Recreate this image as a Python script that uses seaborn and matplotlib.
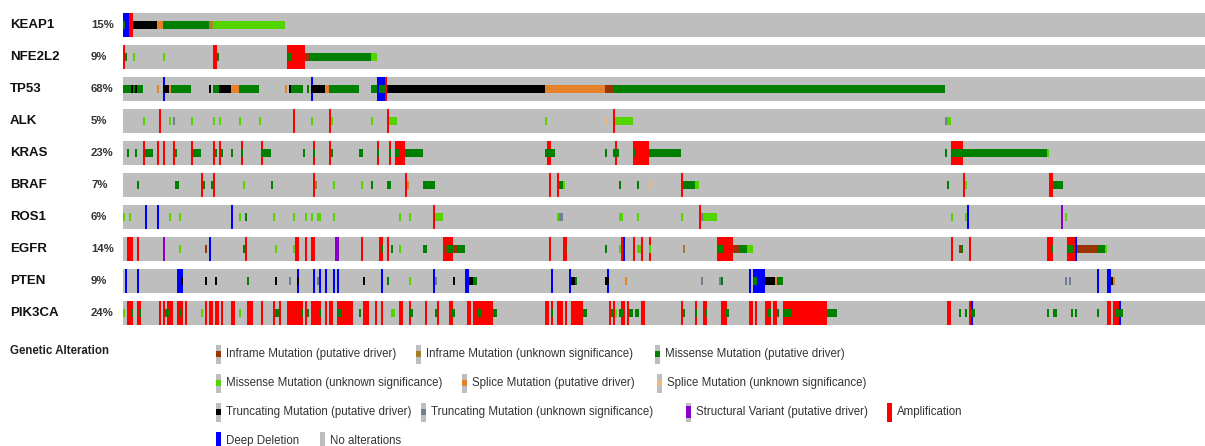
import numpy as np
import pandas as pd
import matplotlib
matplotlib.use("Agg")
import matplotlib.pyplot as plt
import matplotlib.transforms as mtrans
from matplotlib.colors import ListedColormap
from matplotlib.patches import Rectangle
import seaborn as sns

# ---------------------------------------------------------------
# Data: one column per sample, alterations as (type, first, stop)
# ---------------------------------------------------------------
n_samples = 541

genes = ["KEAP1", "NFE2L2", "TP53", "ALK", "KRAS", "BRAF", "ROS1", "EGFR", "PTEN", "PIK3CA"]
freq = ["15%", "9%", "68%", "5%", "23%", "7%", "6%", "14%", "9%", "24%"]

# copy number / structural (full height)
keap1_cna = [("HOMDEL", 0, 3), ("AMP", 3, 5)]
nfe2l2_cna = [("AMP", 0, 1), ("AMP", 45, 47), ("AMP", 82, 91)]
tp53_cna = [("HOMDEL", 20, 21), ("HOMDEL", 94, 95), ("HOMDEL", 127, 131), ("AMP", 131, 132)]
alk_cna = [("AMP", 18, 19), ("AMP", 85, 86), ("AMP", 103, 104), ("AMP", 132, 133), ("AMP", 245, 246)]
kras_cna = [("AMP", 10, 11), ("AMP", 17, 18), ("AMP", 20, 21), ("AMP", 25, 26), ("AMP", 34, 35),
            ("AMP", 45, 46), ("AMP", 48, 49), ("AMP", 59, 60), ("AMP", 69, 70), ("AMP", 95, 96),
            ("AMP", 103, 104), ("AMP", 127, 128), ("AMP", 133, 134), ("AMP", 136, 141),
            ("AMP", 212, 214), ("AMP", 246, 247), ("AMP", 255, 263), ("AMP", 414, 420)]
braf_cna = [("AMP", 39, 40), ("AMP", 45, 46), ("AMP", 95, 96), ("AMP", 141, 142), ("AMP", 213, 214),
            ("AMP", 217, 218), ("AMP", 279, 280), ("AMP", 420, 421), ("AMP", 463, 465)]
ros1_cna = [("HOMDEL", 11, 12), ("HOMDEL", 17, 18), ("HOMDEL", 54, 55), ("AMP", 155, 156),
            ("AMP", 288, 289), ("HOMDEL", 422, 423), ("SV", 469, 470)]
egfr_cna = [("AMP", 2, 3), ("AMP", 3, 5), ("AMP", 7, 8), ("SV", 20, 21), ("HOMDEL", 43, 44),
            ("AMP", 61, 62), ("AMP", 86, 88), ("AMP", 91, 92), ("AMP", 94, 96), ("SV", 106, 108),
            ("AMP", 119, 120), ("AMP", 128, 130), ("AMP", 132, 133), ("AMP", 160, 165),
            ("AMP", 213, 214), ("AMP", 220, 222), ("AMP", 249, 250), ("HOMDEL", 250, 251),
            ("AMP", 255, 256), ("AMP", 259, 260), ("AMP", 263, 264), ("AMP", 297, 305),
            ("AMP", 414, 415), ("AMP", 423, 424), ("AMP", 462, 465), ("AMP", 472, 476),
            ("HOMDEL", 476, 477)]
pten_cna = [("HOMDEL", 1, 2), ("HOMDEL", 7, 8), ("HOMDEL", 27, 29), ("HOMDEL", 29, 30),
            ("HOMDEL", 87, 88), ("HOMDEL", 95, 96), ("HOMDEL", 98, 99), ("HOMDEL", 101, 102),
            ("HOMDEL", 105, 106), ("HOMDEL", 107, 108), ("HOMDEL", 129, 130), ("HOMDEL", 155, 156),
            ("HOMDEL", 171, 173), ("HOMDEL", 214, 215), ("HOMDEL", 223, 224), ("HOMDEL", 242, 243),
            ("HOMDEL", 313, 314), ("HOMDEL", 315, 321), ("HOMDEL", 487, 488), ("HOMDEL", 492, 494)]
pik3ca_cna = [("AMP", 2, 3), ("AMP", 3, 5), ("AMP", 7, 9), ("AMP", 18, 19), ("AMP", 20, 21),
              ("AMP", 22, 25), ("AMP", 27, 30), ("AMP", 31, 32), ("AMP", 41, 42), ("AMP", 43, 45),
              ("AMP", 46, 48), ("AMP", 49, 50), ("AMP", 54, 56), ("AMP", 62, 65), ("AMP", 69, 70),
              ("AMP", 75, 76), ("AMP", 78, 79), ("AMP", 82, 90), ("AMP", 91, 92), ("AMP", 94, 99),
              ("AMP", 101, 102), ("AMP", 103, 105), ("AMP", 107, 115), ("AMP", 120, 123),
              ("AMP", 126, 127), ("AMP", 129, 130), ("AMP", 138, 140), ("AMP", 143, 144),
              ("AMP", 151, 152), ("AMP", 157, 158), ("AMP", 163, 165), ("AMP", 172, 174),
              ("AMP", 175, 185), ("AMP", 211, 213), ("AMP", 214, 215), ("AMP", 217, 218),
              ("AMP", 218, 220), ("AMP", 221, 222), ("AMP", 224, 226), ("AMP", 226, 227),
              ("AMP", 227, 230), ("AMP", 243, 244), ("AMP", 245, 246), ("AMP", 249, 251),
              ("AMP", 252, 253), ("AMP", 259, 261), ("AMP", 279, 280), ("AMP", 286, 287),
              ("AMP", 290, 292), ("AMP", 299, 302), ("AMP", 313, 315), ("AMP", 316, 317),
              ("AMP", 321, 324), ("AMP", 325, 327), ("AMP", 330, 352), ("AMP", 412, 414),
              ("AMP", 423, 424), ("HOMDEL", 424, 425), ("AMP", 492, 494), ("AMP", 495, 498),
              ("HOMDEL", 498, 499)]

# mutations (middle bar)
keap1_mut = [("MIS_D", 0, 1), ("TRU_D", 5, 17), ("SPL_D", 17, 20), ("MIS_D", 20, 43),
             ("INF_U", 43, 45), ("MIS_U", 45, 81)]
nfe2l2_mut = [("MIS_D", 1, 2), ("MIS_U", 5, 6), ("MIS_U", 20, 21), ("MIS_D", 47, 48),
              ("MIS_D", 82, 84), ("INF_D", 91, 93), ("MIS_D", 93, 124), ("MIS_U", 124, 127)]
tp53_mut = [("MIS_D", 0, 10), ("TRU_D", 4, 5), ("TRU_D", 6, 7), ("SPL_D", 17, 18), ("TRU_D", 20, 23),
            ("SPL_D", 23, 24), ("MIS_D", 24, 34), ("TRU_D", 43, 44), ("MIS_D", 45, 48),
            ("TRU_D", 48, 54), ("SPL_D", 54, 58), ("MIS_D", 58, 68), ("SPL_D", 81, 82),
            ("TRU_D", 83, 84), ("MIS_D", 84, 90), ("MIS_D", 92, 93), ("TRU_D", 94, 101),
            ("SPL_D", 101, 103), ("MIS_D", 103, 118), ("MIS_D", 124, 127), ("MIS_D", 128, 131),
            ("TRU_D", 132, 211), ("SPL_D", 211, 241), ("INF_D", 241, 245), ("MIS_D", 245, 411)]
alk_mut = [("MIS_U", 10, 11), ("MIS_U", 23, 24), ("TRU_U", 25, 26), ("MIS_U", 34, 35),
           ("MIS_U", 45, 46), ("MIS_U", 48, 49), ("MIS_U", 58, 59), ("MIS_U", 68, 69),
           ("MIS_U", 94, 95), ("MIS_U", 104, 105), ("MIS_U", 124, 125), ("MIS_U", 133, 137),
           ("MIS_U", 211, 212), ("SPL_U", 241, 242), ("MIS_U", 246, 255), ("TRU_U", 411, 412),
           ("MIS_U", 412, 414)]
kras_mut = [("MIS_D", 2, 3), ("MIS_D", 6, 7), ("MIS_D", 11, 15), ("MIS_D", 26, 27), ("MIS_D", 35, 39),
            ("MIS_D", 46, 47), ("MIS_D", 49, 50), ("MIS_D", 54, 55), ("MIS_D", 59, 60),
            ("MIS_D", 69, 74), ("MIS_D", 90, 91), ("MIS_D", 95, 96), ("MIS_D", 104, 105),
            ("MIS_D", 118, 120), ("MIS_D", 127, 128), ("MIS_D", 133, 134), ("MIS_D", 136, 138),
            ("MIS_D", 141, 150), ("MIS_D", 211, 216), ("MIS_D", 241, 242), ("MIS_D", 245, 248),
            ("MIS_D", 255, 256), ("MIS_D", 263, 279), ("MIS_D", 411, 412), ("MIS_D", 414, 418),
            ("MIS_D", 418, 462), ("MIS_U", 462, 463)]
braf_mut = [("MIS_D", 7, 8), ("MIS_D", 26, 27), ("MIS_D", 27, 28), ("MIS_D", 40, 41), ("MIS_D", 44, 45),
            ("MIS_U", 60, 61), ("MIS_D", 74, 75), ("INF_U", 96, 97), ("MIS_U", 105, 106),
            ("MIS_U", 119, 120), ("MIS_D", 124, 125), ("MIS_D", 132, 133), ("MIS_D", 133, 134),
            ("SPL_D", 142, 143), ("MIS_D", 150, 156), ("MIS_D", 218, 220), ("MIS_U", 220, 221),
            ("MIS_D", 248, 249), ("MIS_D", 257, 258), ("SPL_U", 263, 264), ("MIS_D", 280, 286),
            ("MIS_U", 286, 288), ("MIS_D", 412, 413), ("MIS_U", 421, 422), ("MIS_D", 465, 470)]
ros1_mut = [("MIS_U", 0, 1), ("MIS_U", 3, 4), ("MIS_U", 23, 24), ("MIS_U", 28, 29), ("MIS_U", 58, 59),
            ("MIS_D", 61, 62), ("MIS_U", 75, 76), ("MIS_U", 85, 86), ("MIS_U", 91, 92),
            ("MIS_U", 94, 95), ("MIS_U", 97, 99), ("MIS_U", 105, 106), ("MIS_U", 138, 139),
            ("MIS_U", 143, 144), ("MIS_U", 156, 160), ("MIS_U", 217, 218), ("TRU_U", 218, 220),
            ("MIS_U", 248, 250), ("MIS_U", 257, 258), ("MIS_U", 279, 280), ("TRU_U", 289, 290),
            ("MIS_U", 290, 297), ("MIS_U", 414, 415), ("MIS_U", 421, 422), ("MIS_U", 471, 472)]
egfr_mut = [("MIS_U", 28, 29), ("INF_D", 41, 42), ("MIS_D", 60, 61), ("MIS_U", 76, 77),
            ("MIS_U", 85, 86), ("MIS_D", 129, 130), ("MIS_D", 134, 135), ("MIS_U", 138, 139),
            ("MIS_D", 150, 152), ("INF_D", 160, 162), ("MIS_D", 162, 165), ("INF_D", 165, 167),
            ("MIS_D", 167, 171), ("INF_D", 221, 222), ("MIS_D", 241, 242), ("MIS_U", 248, 249),
            ("MIS_U", 257, 259), ("MIS_U", 263, 264), ("INF_U", 280, 281), ("MIS_D", 297, 300),
            ("INF_D", 305, 308), ("MIS_D", 308, 312), ("MIS_U", 312, 315), ("INF_D", 418, 419),
            ("MIS_D", 419, 420), ("MIS_D", 464, 465), ("MIS_D", 472, 475), ("INF_D", 477, 487),
            ("MIS_D", 487, 491), ("MIS_U", 491, 492)]
pten_mut = [("TRU_D", 29, 30), ("TRU_D", 41, 42), ("TRU_D", 46, 47), ("MIS_D", 62, 63),
            ("TRU_D", 76, 77), ("TRU_U", 83, 84), ("TRU_D", 87, 88), ("TRU_U", 97, 98),
            ("TRU_D", 120, 121), ("MIS_D", 132, 133), ("MIS_U", 143, 144), ("TRU_U", 156, 157),
            ("TRU_D", 165, 166), ("TRU_D", 173, 175), ("MIS_D", 175, 177), ("TRU_D", 224, 226),
            ("MIS_D", 226, 227), ("TRU_D", 241, 243), ("SPL_D", 251, 252), ("TRU_U", 289, 290),
            ("TRU_U", 298, 299), ("MIS_D", 299, 300), ("MIS_D", 315, 317), ("TRU_D", 321, 326),
            ("SPL_D", 326, 327), ("MIS_D", 327, 330), ("TRU_U", 471, 472), ("TRU_U", 473, 474),
            ("TRU_D", 494, 495), ("SPL_D", 495, 496)]
pik3ca_mut = [("MIS_U", 0, 1), ("MIS_D", 4, 5), ("MIS_D", 8, 9), ("MIS_D", 21, 23), ("MIS_D", 28, 29),
              ("MIS_U", 39, 40), ("MIS_U", 58, 59), ("MIS_D", 76, 78), ("MIS_D", 89, 90),
              ("MIS_D", 92, 93), ("MIS_D", 98, 99), ("MIS_D", 107, 109), ("MIS_D", 118, 119),
              ("MIS_U", 134, 136), ("MIS_D", 143, 145), ("MIS_D", 156, 157), ("MIS_D", 164, 166),
              ("MIS_D", 177, 179), ("MIS_D", 185, 187), ("MIS_D", 214, 215), ("MIS_D", 230, 232),
              ("MIS_D", 244, 245), ("MIS_U", 246, 247), ("MIS_D", 248, 250), ("MIS_D", 253, 255),
              ("MIS_D", 256, 258), ("MIS_D", 280, 281), ("MIS_D", 286, 287), ("MIS_D", 291, 292),
              ("MIS_D", 301, 303), ("MIS_D", 322, 324), ("MIS_D", 327, 328), ("MIS_D", 330, 334),
              ("MIS_D", 352, 357), ("MIS_D", 418, 419), ("MIS_D", 421, 422), ("MIS_D", 424, 426),
              ("MIS_D", 462, 463), ("MIS_D", 465, 467), ("MIS_D", 474, 475), ("MIS_D", 476, 477),
              ("MIS_D", 487, 488), ("MIS_D", 496, 498), ("MIS_D", 498, 500)]

cna_tracks = [keap1_cna, nfe2l2_cna, tp53_cna, alk_cna, kras_cna,
              braf_cna, ros1_cna, egfr_cna, pten_cna, pik3ca_cna]
mut_tracks = [keap1_mut, nfe2l2_mut, tp53_mut, alk_mut, kras_mut,
              braf_mut, ros1_mut, egfr_mut, pten_mut, pik3ca_mut]

# ---------------------------------------------------------------
# colours (cBioPortal oncoprint palette)
# ---------------------------------------------------------------
palette = {
    "GAP": "#FFFFFF", "NONE": "#BEBEBE", "AMP": "#FF0000", "HOMDEL": "#0000FF", "SV": "#8B00C9",
    "MIS_D": "#008000", "MIS_U": "#53D400", "INF_D": "#993404", "INF_U": "#A68028",
    "SPL_D": "#E5802B", "SPL_U": "#F0B87B", "TRU_D": "#000000", "TRU_U": "#708090",
}
codes = list(palette.keys())
idx = {c: i for i, c in enumerate(codes)}

# each gene = 3 sub-rows (cna / mutation / cna) + a white gap row
rows, row_names = [], []
for g, (cna, mut) in enumerate(zip(cna_tracks, mut_tracks)):
    base = np.full(n_samples, idx["NONE"])
    for kind, a, b in cna:
        base[a:b] = idx[kind]
    mid = base.copy()
    for kind, a, b in mut:
        mid[a:b] = idx[kind]
    rows += [base, mid, base.copy()]
    row_names += [genes[g] + "_top", genes[g], genes[g] + "_bot"]
    if g < len(genes) - 1:
        rows.append(np.full(n_samples, idx["GAP"]))
        row_names.append(genes[g] + "_gap")

grid = pd.DataFrame(np.vstack(rows), index=row_names)

# ---------------------------------------------------------------
# Figure
# ---------------------------------------------------------------
sns.set_style("white")
plt.rcParams["font.family"] = ["Liberation Sans", "DejaVu Sans"]

W, H = 1205, 446
fig = plt.figure(figsize=(W / 100, H / 100), dpi=100)
ax = fig.add_axes([123 / W, 1 - 325 / H, 1082 / W, 312 / H])
sns.heatmap(grid, cmap=ListedColormap(list(palette.values())), vmin=-0.5, vmax=len(codes) - 0.5,
            cbar=False, xticklabels=False, yticklabels=False, linewidths=0, ax=ax)
ax.set_xlabel("")
ax.set_ylabel("")
for s in ax.spines.values():
    s.set_visible(False)

# gene names and frequencies
trans = mtrans.blended_transform_factory(fig.transFigure, ax.transData)
for g, (name, pct) in enumerate(zip(genes, freq)):
    y = 4 * g + 1.5
    ax.text(10 / W, y, name, transform=trans, ha="left", va="center",
            fontsize=9.5, fontweight="bold", color="#111111")
    ax.text(91 / W, y, pct, transform=trans, ha="left", va="center",
            fontsize=8.2, fontweight="bold", color="#333333")

# legend drawn on an overlay in pixel units
lg = fig.add_axes([0, 0, 1, 1])
lg.set_xlim(0, W)
lg.set_ylim(H, 0)
lg.axis("off")
lg.patch.set_alpha(0)

lg.text(10, 351, "Genetic Alteration", ha="left", va="center",
        fontsize=8.3, fontweight="bold", color="#222222")

legend_items = [
    ("INF_D", "Inframe Mutation (putative driver)", 216, 354),
    ("INF_U", "Inframe Mutation (unknown significance)", 416, 354),
    ("MIS_D", "Missense Mutation (putative driver)", 655, 354),
    ("MIS_U", "Missense Mutation (unknown significance)", 216, 383),
    ("SPL_D", "Splice Mutation (putative driver)", 462, 383),
    ("SPL_U", "Splice Mutation (unknown significance)", 657, 383),
    ("TRU_D", "Truncating Mutation (putative driver)", 216, 412),
    ("TRU_U", "Truncating Mutation (unknown significance)", 421, 412),
    ("SV", "Structural Variant (putative driver)", 686, 412),
    ("AMP", "Amplification", 887, 412),
    ("HOMDEL", "Deep Deletion", 216, 441),
    ("NONE", "No alterations", 320, 441),
]
iw, ih = 5, 19
for kind, label, x, y in legend_items:
    top = y - ih / 2
    if kind in ("AMP", "HOMDEL"):
        lg.add_patch(Rectangle((x, top), iw, ih, color=palette[kind], lw=0))
    else:
        lg.add_patch(Rectangle((x, top), iw, ih, color=palette["NONE"], lw=0))
        if kind == "SV":
            lg.add_patch(Rectangle((x, top + ih * 0.2), iw, ih * 0.6, color=palette[kind], lw=0))
        elif kind != "NONE":
            lg.add_patch(Rectangle((x, top + ih / 3), iw, ih / 3, color=palette[kind], lw=0))
    lg.text(x + 10, y, label, ha="left", va="center", fontsize=8.3, color="#333333")

fig.savefig("out.png", dpi=100)
